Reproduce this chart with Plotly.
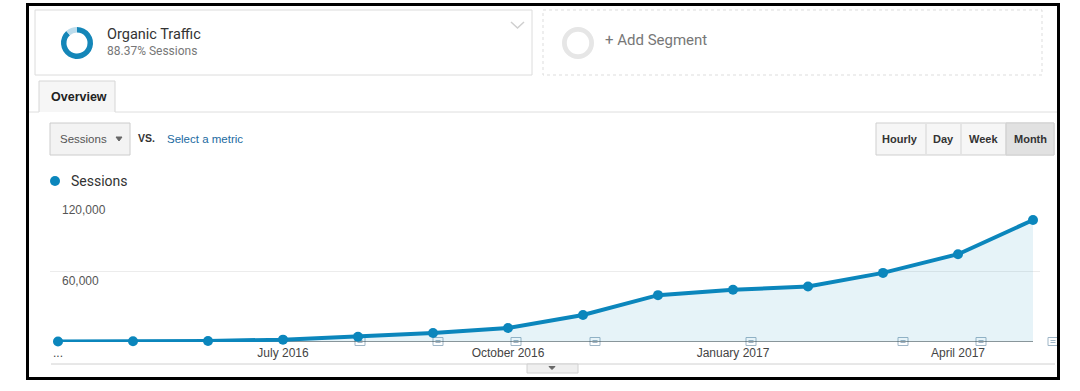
import plotly.graph_objects as go

# ---------------- data ----------------
MONTHS = ["Apr 2016", "May 2016", "Jun 2016", "Jul 2016", "Aug 2016", "Sep 2016",
          "Oct 2016", "Nov 2016", "Dec 2016", "Jan 2017", "Feb 2017", "Mar 2017",
          "Apr 2017", "May 2017"]
SESSIONS = [400, 600, 900, 2000, 4500, 7600, 11800, 22800, 39600, 44100, 46900,
            58400, 74200, 103100]
TICK_MONTHS = ["Apr 2016", "Jul 2016", "Oct 2016", "Jan 2017", "Apr 2017"]
TICK_LABELS = ["...", "July 2016", "October 2016", "January 2017", "April 2017"]
Y_TICKS = [60000, 120000]
SEGMENT_NAME = "Organic Traffic"
SEGMENT_SHARE = 88.37

W, H = 1080, 391
BLUE = "#0b86bc"
UI_FONT = "Roboto, Arial, sans-serif"
CH_FONT = "Liberation Sans, Arial, sans-serif"


def fx(px):
    return px / W


def fy(py):
    return 1 - py / H


shapes = []
annotations = []


def rect(x0, y0, x1, y1, line="#dddddd", fill="rgba(0,0,0,0)", width=1, dash="solid", layer="above"):
    shapes.append(dict(type="rect", xref="paper", yref="paper",
                       x0=fx(x0), y0=fy(y0), x1=fx(x1), y1=fy(y1),
                       line=dict(color=line, width=width, dash=dash),
                       fillcolor=fill, layer=layer))


def line(x0, y0, x1, y1, color="#dddddd", width=1, layer="above"):
    shapes.append(dict(type="line", xref="paper", yref="paper",
                       x0=fx(x0), y0=fy(y0), x1=fx(x1), y1=fy(y1),
                       line=dict(color=color, width=width), layer=layer))


def path(points, color="#cccccc", width=1, fill=None, closed=False):
    d = "M " + " L ".join(f"{fx(x)},{fy(y)}" for x, y in points)
    if closed:
        d += " Z"
    shapes.append(dict(type="path", xref="paper", yref="paper", path=d,
                       line=dict(color=color, width=width),
                       fillcolor=fill if fill else "rgba(0,0,0,0)", layer="above"))


def text(x, y, s, size=12, color="#333333", bold=False, family=UI_FONT, xanchor="left"):
    if bold:
        s = f"<b>{s}</b>"
    annotations.append(dict(x=fx(x), y=fy(y), xref="paper", yref="paper", text=s,
                            showarrow=False, xanchor=xanchor, yanchor="middle",
                            font=dict(size=size, color=color, family=family)))


# ---------------- figure ----------------
fig = go.Figure()

fig.add_trace(go.Scatter(
    x=MONTHS, y=SESSIONS, mode="lines+markers", name="Sessions",
    line=dict(color=BLUE, width=4),
    marker=dict(color=BLUE, size=10),
    fill="tozeroy", fillcolor="rgba(11,134,188,0.10)",
    cliponaxis=False, showlegend=False,
    hovertemplate="%{x}<br>Sessions: %{y:,}<extra></extra>",
))

# segment donuts
fig.add_trace(go.Pie(
    values=[SEGMENT_SHARE, 100 - SEGMENT_SHARE], hole=0.66, sort=False,
    direction="clockwise", rotation=0, textinfo="none", hoverinfo="skip",
    marker=dict(colors=["#1486b8", "#bcdcec"], line=dict(width=0)),
    domain=dict(x=[fx(61), fx(93)], y=[fy(59), fy(27)]), showlegend=False,
))
fig.add_trace(go.Pie(
    values=[100], hole=0.7, sort=False, textinfo="none", hoverinfo="skip",
    marker=dict(colors=["#e6e6e6"], line=dict(width=0)),
    domain=dict(x=[fx(562), fx(594)], y=[fy(59), fy(27)]), showlegend=False,
))

# ---------------- UI decorations ----------------
# segment cards
rect(35, 10, 532, 75, line="#dcdcdc", fill="#ffffff", layer="below")
rect(543, 10, 1042, 75, line="#dddddd", dash="dot", layer="below")
path([(511, 22), (517.5, 28), (524, 22)], color="#cfcfcf", width=1.5)
text(105, 35, SEGMENT_NAME, size=14.5, color="#333333")
text(105, 51, f"{SEGMENT_SHARE:.2f}% Sessions", size=12, color="#777777")
text(603, 40, "+ Add Segment", size=15, color="#777777")

# tab + divider
shapes.append(dict(type="path", xref="paper", yref="paper",
                   path=f"M {fx(39)},{fy(112)} L {fx(39)},{fy(81)} L {fx(115)},{fy(81)} L {fx(115)},{fy(112)} Z",
                   line=dict(color="rgba(0,0,0,0)", width=0), fillcolor="#f6f6f6", layer="below"))
path([(39, 112), (39, 81), (115, 81), (115, 112)], color="#d6d6d6")
line(29, 112, 39, 112, color="#dedede")
line(115, 112, 1057, 112, color="#dedede")
text(49, 97, "Overview", size=12.5, color="#222222", bold=True, family=CH_FONT)

# metric selector
rect(50, 123, 130, 155, line="#cccccc", fill="#f3f3f3", layer="below")
text(58, 139, "Sessions", size=11.5, color="#555555", family=CH_FONT)
path([(116, 137), (122, 137), (119, 141)], color="#666666", fill="#666666", closed=True)
text(136, 138, "VS.", size=10.5, color="#333333", bold=True, family=CH_FONT)
text(165, 139, "Select a metric", size=11.5, color="#226a9f", family=CH_FONT)

# period buttons
rect(876, 123, 1054, 155, line="#cfcfcf", fill="#f6f6f6", layer="below")
rect(1006, 123, 1054, 155, line="#cfcfcf", fill="#e1e1e1", layer="below")
for xd in (926, 961, 1006):
    line(xd, 124, xd, 154, color="#d4d4d4")
for cx, lab in ((900, "Hourly"), (943, "Day"), (983, "Week"), (1030, "Month")):
    text(cx, 139, lab, size=11, color="#333333", bold=True, family=CH_FONT, xanchor="center")

# legend
shapes.append(dict(type="circle", xref="paper", yref="paper",
                   x0=fx(50), y0=fy(186), x1=fx(60), y1=fy(176),
                   fillcolor=BLUE, line=dict(color=BLUE, width=0)))
text(69, 181, "Sessions", size=14, color="#333333")

# baseline of the chart
shapes.append(dict(type="line", xref="x", yref="y", x0=MONTHS[0], x1=MONTHS[-1], y0=0, y1=0,
                   line=dict(color="#333333", width=1.2), layer="between"))

# event annotation icons on the axis
for cx in (360, 438, 516, 595, 751, 903, 981, 1053):
    shapes.append(dict(type="rect", xref="paper", yref="paper",
                       x0=fx(cx - 5), y0=fy(345.5), x1=fx(cx + 5), y1=fy(337.5),
                       line=dict(color="#9fb6c7", width=1), fillcolor="#ffffff", layer="between"))
    shapes.append(dict(type="line", xref="paper", yref="paper",
                       x0=fx(cx - 2.5), y0=fy(340.5), x1=fx(cx + 2.5), y1=fy(340.5),
                       line=dict(color="#9fb6c7", width=1), layer="between"))
    shapes.append(dict(type="line", xref="paper", yref="paper",
                       x0=fx(cx - 2.5), y0=fy(342.5), x1=fx(cx + 2.5), y1=fy(342.5),
                       line=dict(color="#9fb6c7", width=1), layer="between"))

# y tick labels inside the plot
for v in Y_TICKS:
    annotations.append(dict(x=fx(60), y=v, xref="paper", yref="y", text=f"{v:,}",
                            showarrow=False, xanchor="left", yanchor="top", yshift=-1,
                            font=dict(size=12, color="#555555", family=CH_FONT)))

# bottom rule and collapse tab
line(51, 364, 1055, 364, color="#d0d0d0")
rect(527, 364, 578, 373, line="#d0d0d0", fill="#efefef")
path([(549, 366.5), (555, 366.5), (552, 369.5)], color="#666666", fill="#666666", closed=True)

# black photo frame
rect(27.5, 4.5, 1058.5, 378.5, line="#000000", width=3)

fig.update_layout(
    width=W, height=H,
    margin=dict(l=0, r=0, t=0, b=0),
    paper_bgcolor="#ffffff", plot_bgcolor="rgba(0,0,0,0)",
    showlegend=False,
    shapes=shapes, annotations=annotations,
    xaxis=dict(domain=[fx(50), fx(1040)], type="category",
               range=[-8 / 75, 13 + 7 / 75],
               tickmode="array", tickvals=TICK_MONTHS, ticktext=TICK_LABELS,
               showgrid=False, zeroline=False, showline=False, ticks="",
               ticklabelstandoff=2,
               tickfont=dict(size=12, color="#444444", family=CH_FONT), fixedrange=True),
    yaxis=dict(domain=[fy(342), fy(200)], range=[0, 120000],
               tickmode="array", tickvals=Y_TICKS, showticklabels=False,
               showgrid=True, gridcolor="#ececec", gridwidth=1,
               zeroline=False, showline=False, ticks="", fixedrange=True),
)

fig.write_html(
    "out.html",
    config={"displayModeBar": False},
    post_script="document.body.style.margin='0';document.body.style.overflow='hidden';",
)
